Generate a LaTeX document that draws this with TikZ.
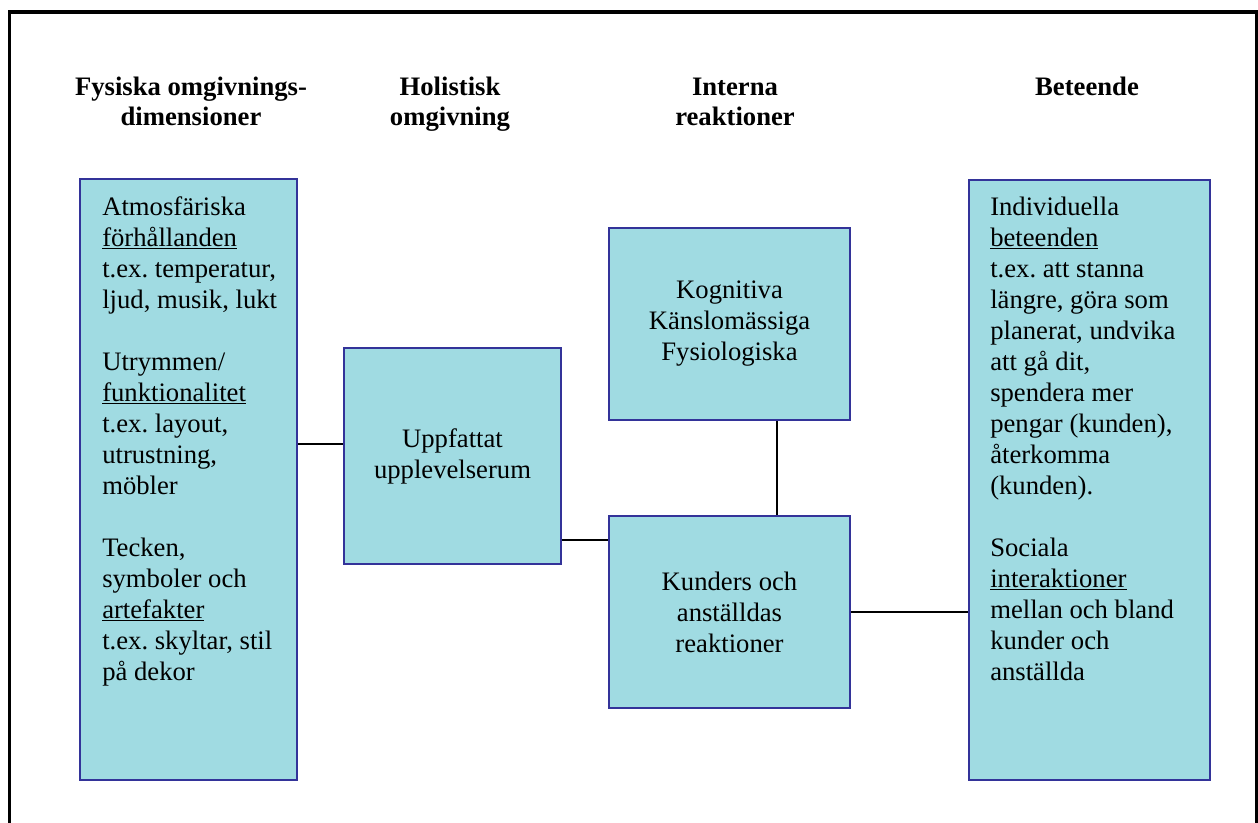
\documentclass[tikz,border=0pt]{standalone}
\usepackage{fontspec}
\setmainfont{Liberation Serif}
\definecolor{boxfill}{HTML}{A0DBE2}
\definecolor{boxline}{HTML}{333399}
\newcommand\bodyfont{\fontsize{20}{23.25}\selectfont\frenchspacing}
\newcommand\headfont{\fontsize{20}{22.5}\selectfont\bfseries}
\tikzset{
  frame/.style={line width=2.7pt, draw=black},
  box/.style={draw=boxline, fill=boxfill, line width=1.8pt, inner sep=0pt,
              align=center, font=\bodyfont},
  listtext/.style={inner sep=0pt, font=\bodyfont},
  head/.style={inner sep=0pt, font=\headfont},
  link/.style={line width=0.9pt, draw=black}
}
\begin{document}
\begin{tikzpicture}[x=0.75pt,y=-0.75pt]
\useasboundingbox (0,0) rectangle (1258,822);
% outer frame (open at the bottom)
\draw[frame] (9.5,830) -- (9.5,12) -- (1256.5,12) -- (1256.5,830);

% column headings
\node[head, anchor=base] (h1) at (191,95)
  {\begin{tabular}[t]{@{}c@{}}Fysiska omgivnings-\\dimensioner\end{tabular}};
\node[head, anchor=base] (h2) at (450,95)
  {\begin{tabular}[t]{@{}c@{}}Holistisk\\omgivning\end{tabular}};
\node[head, anchor=base] (h3) at (735,95)
  {\begin{tabular}[t]{@{}c@{}}Interna\\reaktioner\end{tabular}};
\node[head, anchor=base] (h4) at (1087,95) {Beteende};

% boxes
\node[box, minimum width=162.75pt, minimum height=450.75pt] (phys) at (188.5,479.5) {};
\node[box, minimum width=162.75pt, minimum height=162pt] (holo) at (452.5,456)
  {Uppfattat\\upplevelserum};
\node[box, minimum width=180.75pt, minimum height=144pt] (kogn) at (729.5,324)
  {Kognitiva\\Känslomässiga\\Fysiologiska};
\node[box, minimum width=180.75pt, minimum height=144pt] (kund) at (729.5,612)
  {Kunders och\\anställdas\\reaktioner};
\node[box, minimum width=180.75pt, minimum height=450pt] (beh) at (1089.5,480) {};

% box contents (left aligned)
\node[listtext, anchor=base west] (physT) at (102,215)
  {\begin{tabular}[t]{@{}l@{}}
   Atmosfäriska\\
   \underline{förhållanden}\\
   t.ex. temperatur,\\
   ljud, musik, lukt\\
   \\
   Utrymmen/\\
   \underline{funktionalitet}\\
   t.ex. layout,\\
   utrustning,\\
   möbler\\
   \\
   Tecken,\\
   symboler och\\
   \underline{artefakter}\\
   t.ex. skyltar, stil\\
   på dekor
  \end{tabular}};
\node[listtext, anchor=base west] (behT) at (990,215)
  {\begin{tabular}[t]{@{}l@{}}
   Individuella\\
   \underline{beteenden}\\
   t.ex. att stanna\\
   längre, göra som\\
   planerat, undvika\\
   att gå dit,\\
   spendera mer\\
   pengar (kunden),\\
   återkomma\\
   (kunden).\\
   \\
   Sociala\\
   \underline{interaktioner}\\
   mellan och bland\\
   kunder och\\
   anställda
  \end{tabular}};

% connectors
\coordinate (c1) at ([yshift=9pt]holo.west);
\draw[link] (c1) -- (c1 -| phys.east);
\coordinate (c2) at ([yshift=54pt]kund.west);
\draw[link] (c2) -- (c2 -| holo.east);
\draw[link] ([xshift=35.6pt]kogn.south) -- ([xshift=35.6pt]kund.north);
\draw[link] (kund.east) -- (kund.east -| beh.west);
\end{tikzpicture}
\end{document}
